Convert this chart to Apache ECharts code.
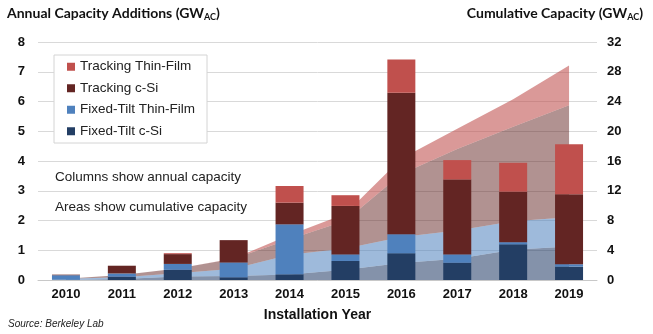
<!DOCTYPE html>
<html>
<head>
<meta charset="utf-8">
<script src="https://cdn.jsdelivr.net/npm/echarts@6/dist/echarts.min.js"></script>
<style>
html,body{margin:0;padding:0;background:#fff;}
#c{width:653px;height:334px;}
</style>
</head>
<body>
<div id="c"></div>
<script>
// Categories
var years = ['2010','2011','2012','2013','2014','2015','2016','2017','2018','2019'];

// Annual capacity additions (GW_AC) - columns
var fixedCSi      = [0.01, 0.11, 0.34, 0.09, 0.19, 0.64, 0.90, 0.58, 1.20, 0.45];
var fixedThinFilm = [0.15, 0.11, 0.20, 0.50, 1.68, 0.22, 0.64, 0.28, 0.07, 0.08];
var trackCSi      = [0.02, 0.26, 0.33, 0.75, 0.73, 1.63, 4.75, 2.52, 1.70, 2.35];
var trackThinFilm = [0.00, 0.00, 0.03, 0.00, 0.56, 0.36, 1.12, 0.65, 0.97, 1.68];

// Cumulative capacity (GW_AC) - stacked areas
var cumFixedCSi      = [0.01, 0.12, 0.46, 0.55, 0.74, 1.38, 2.28, 2.86, 4.06, 4.51];
var cumFixedThinFilm = [0.15, 0.26, 0.46, 0.96, 2.64, 2.86, 3.50, 3.78, 3.85, 3.93];
var cumTrackCSi      = [0.02, 0.28, 0.61, 1.36, 2.09, 3.72, 8.47, 10.99, 12.69, 15.04];
var cumTrackThinFilm = [0.00, 0.00, 0.03, 0.03, 0.59, 0.95, 2.07, 2.72, 3.69, 5.37];

// Tick labels
var leftTicks = {min: 0, max: 8, interval: 1};
var rightTicks = {min: 0, max: 32, interval: 4};

var names = ['Fixed-Tilt c-Si','Fixed-Tilt Thin-Film','Tracking c-Si','Tracking Thin-Film'];
var barColors = ['#233e64','#4f81bd','#632523','#c0504d'];
var areaColors = ['rgba(31,56,100,0.55)','rgba(79,129,189,0.55)','rgba(99,37,35,0.5)','rgba(192,80,77,0.58)'];
var annual = [fixedCSi, fixedThinFilm, trackCSi, trackThinFilm];
var cumul = [cumFixedCSi, cumFixedThinFilm, cumTrackCSi, cumTrackThinFilm];

var series = [];
for (var i = 0; i < 4; i++) {
  series.push({
    name: 'cum-' + names[i], type: 'line', yAxisIndex: 1, stack: 'cum',
    data: cumul[i], symbol: 'none', silent: true, z: 1,
    lineStyle: {width: 0}, areaStyle: {color: areaColors[i], opacity: 1},
    itemStyle: {color: areaColors[i]}
  });
}
for (var j = 0; j < 4; j++) {
  series.push({
    name: names[j], type: 'bar', yAxisIndex: 0, stack: 'annual',
    data: annual[j], barWidth: 28, z: 3,
    itemStyle: {color: barColors[j]}
  });
}

var chart = echarts.init(document.getElementById('c'), null, {renderer: 'canvas'});
chart.setOption({
  animation: false,
  backgroundColor: '#ffffff',
  grid: {left: 38, right: 56, top: 42, bottom: 54},
  legend: {
    data: ['Tracking Thin-Film','Tracking c-Si','Fixed-Tilt Thin-Film','Fixed-Tilt c-Si'],
    orient: 'vertical', left: 54, top: 55,
    itemWidth: 8, itemHeight: 8, itemGap: 6, icon: 'rect',
    padding: [4, 12, 4, 13],
    borderColor: '#d4d4d4', borderWidth: 1, backgroundColor: '#ffffff',
    textStyle: {fontFamily: 'Liberation Sans', fontSize: 13.5, color: '#222', lineHeight: 15.5}
  },
  xAxis: {
    type: 'category', data: years, boundaryGap: true,
    axisLine: {lineStyle: {color: '#c8c8c8', width: 1}},
    axisTick: {show: false},
    axisLabel: {fontFamily: 'Liberation Sans', fontWeight: 'bold', fontSize: 13, color: '#111', margin: 8},
    name: 'Installation Year', nameLocation: 'middle', nameGap: 28,
    nameTextStyle: {fontFamily: 'Liberation Sans', fontWeight: 'bold', fontSize: 14, color: '#111'}
  },
  yAxis: [
    {type: 'value', min: leftTicks.min, max: leftTicks.max, interval: leftTicks.interval,
     axisLine: {show: false}, axisTick: {show: false},
     splitLine: {lineStyle: {color: '#d9d9d9', width: 1}},
     axisLabel: {fontFamily: 'Liberation Sans', fontWeight: 'bold', fontSize: 13, color: '#111', margin: 13}},
    {type: 'value', min: rightTicks.min, max: rightTicks.max, interval: rightTicks.interval,
     axisLine: {show: false}, axisTick: {show: false}, splitLine: {show: false},
     axisLabel: {fontFamily: 'Liberation Sans', fontWeight: 'bold', fontSize: 13, color: '#111', margin: 10}}
  ],
  graphic: [
    {type: 'text', left: 7, top: 6, style: {
      text: '{t|Annual Capacity Additions (GW}{s|AC}{t|)}',
      rich: {t: {fontFamily: 'Lato', fontWeight: 'bold', fontSize: 14, fill: '#111'},
             s: {fontFamily: 'Lato', fontWeight: 'bold', fontSize: 9, fill: '#111', padding: [8,0,0,0]}}
    }},
    {type: 'text', right: 10, top: 6, style: {
      text: '{t|Cumulative Capacity (GW}{s|AC}{t|)}',
      rich: {t: {fontFamily: 'Lato', fontWeight: 'bold', fontSize: 14, fill: '#111'},
             s: {fontFamily: 'Lato', fontWeight: 'bold', fontSize: 9, fill: '#111', padding: [8,0,0,0]}}
    }},
    {type: 'text', left: 55, top: 170, style: {text: 'Columns show annual capacity', fontFamily: 'Liberation Sans', fontSize: 13.5, fill: '#222'}},
    {type: 'text', left: 55, top: 200, style: {text: 'Areas show cumulative capacity', fontFamily: 'Liberation Sans', fontSize: 13.5, fill: '#222'}},
    {type: 'text', left: 8, top: 319, style: {text: 'Source: Berkeley Lab', fontFamily: 'Liberation Sans', fontStyle: 'italic', fontSize: 10, fill: '#222'}}
  ],
  series: series
});
</script>
</body>
</html>
